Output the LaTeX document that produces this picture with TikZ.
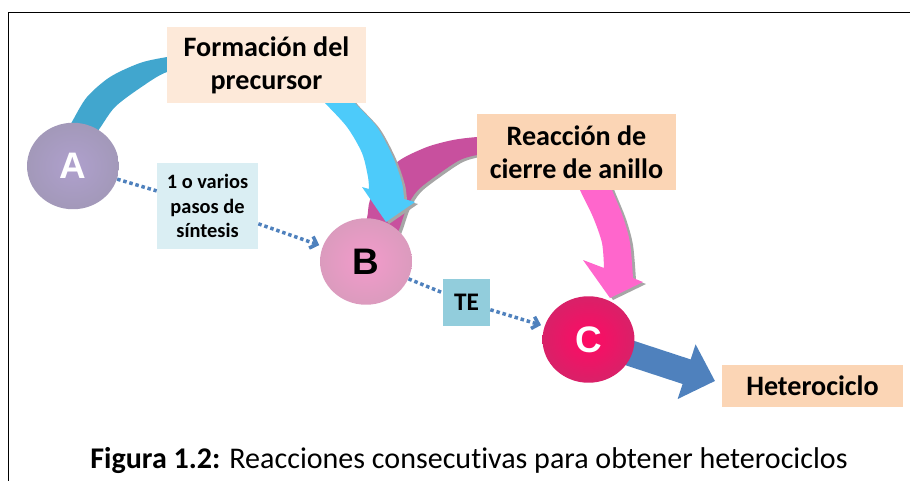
\documentclass[tikz,border=0pt]{standalone}
\usepackage{fontspec}
\setmainfont[Ligatures=NoCommon]{Carlito}
\newfontfamily\ballfont{Liberation Sans}
\usetikzlibrary{shapes.geometric, arrows.meta, positioning}

\definecolor{tealband}{HTML}{41A6CE}
\definecolor{cyanband}{HTML}{4DCBFA}
\definecolor{magband}{HTML}{C8509E}
\definecolor{pinkband}{HTML}{FF66CC}
\definecolor{arrowblue}{HTML}{4F81BD}
\definecolor{shadowgray}{HTML}{A6A6A6}
\definecolor{peachlight}{HTML}{FDE9D9}
\definecolor{peach}{HTML}{FBD5B5}
\definecolor{bluelight}{HTML}{DAEEF3}
\definecolor{bluemid}{HTML}{92CDDC}
\definecolor{ballAin}{HTML}{AFA0CD}
\definecolor{ballAout}{HTML}{9691A5}
\definecolor{ballBin}{HTML}{F39BCB}
\definecolor{ballBout}{HTML}{C39AB0}
\definecolor{ballCin}{HTML}{FF0A64}
\definecolor{ballCout}{HTML}{B2386C}

\pgfdeclareradialshading{shadeA}{\pgfpoint{0bp}{0bp}}{color(0bp)=(ballAin); color(50bp)=(ballAout)}
\pgfdeclareradialshading{shadeB}{\pgfpoint{0bp}{0bp}}{color(0bp)=(ballBin); color(50bp)=(ballBout)}
\pgfdeclareradialshading{shadeC}{\pgfpoint{0bp}{0bp}}{color(0bp)=(ballCin); color(50bp)=(ballCout)}

\pgfdeclarelayer{background}
\pgfsetlayers{background,main}

% outlines of the curved block arrows
\newcommand{\tealpath}{plot[smooth] coordinates {(65,135) (73,120) (87,97) (110,77) (140,63) (167,57) (200,52)} -- plot[smooth] coordinates {(200,68) (167,72) (140,88) (115,107) (100,128) (90,142)} -- cycle}
\newcommand{\cyanpath}{plot[smooth] coordinates {(345,88) (355,103) (377,127) (393,157) (402,183) (404,199)} -- (415,202) -- (386,222) -- (362,187) -- plot[smooth] coordinates {(369,189) (368,177) (362,153) (347,127) (325,103) (315,92)} -- cycle}
\newcommand{\magpath}{plot[smooth] coordinates {(360,235) (367,218) (370,200) (383,177) (400,160) (427,147) (453,140) (477,137) (500,136)} -- plot[smooth] coordinates {(500,152) (477,155) (460,160) (440,173) (418,190) (407,207) (400,227) (395,240)} -- cycle}
\newcommand{\pinkpath}{plot[smooth] coordinates {(605,172) (612,190) (623,217) (630,243) (633,278)} -- (643,282) -- (610,298) -- (583,260) -- plot[smooth] coordinates {(604,268) (602,243) (593,217) (580,190) (575,175)} -- cycle}

\begin{document}
\begin{tikzpicture}[
        x=0.02cm, y=-0.02cm,
        every node/.style={font=\bfseries},
        ball/.style={ellipse, inner sep=0pt, minimum width=1.84cm, minimum height=1.73cm,
            font=\ballfont\bfseries\fontsize{21}{21}\selectfont},
        labelbox/.style={rectangle, inner sep=0pt, align=center,
            font=\fontsize{16}{18.7}\selectfont\bfseries},
        stepbox/.style={rectangle, inner sep=0pt, align=center,
            font=\fontsize{11.6}{13.9}\selectfont\bfseries},
        dotarrow/.style={draw=arrowblue, line width=2pt, dash pattern=on 2pt off 1.6pt},
        blockarrow/.style={draw=arrowblue, line width=14.7pt, -{Triangle[length=17pt, width=31.7pt]}},
        shadow/.style={fill=shadowgray, shift={(3,2)}}
    ]

    \useasboundingbox (0,0) rectangle (910,481);

    % Frame
    \draw[line width=1.1pt] (910,12.5) -- (8.5,12.5) -- (8.5,481);

    % Curved arrows
    \fill[tealband] \tealpath;
    \fill[shadow] \magpath;
    \fill[magband] \magpath;
    \fill[shadow] \cyanpath;
    \fill[cyanband] \cyanpath;
    \fill[shadow] \pinkpath;
    \fill[pinkband] \pinkpath;

    % Species
    \node[ball, shading=shadeA, text=white] (A) at (73,166) {A};
    \node[ball, shading=shadeB, text=black] (B) at (366,261.5) {B};
    \node[ball, shading=shadeC, text=white] (C) at (588.5,339.5) {C};

    % Labels
    \node[labelbox, fill=peachlight, minimum width=3.98cm, minimum height=1.52cm] (precursor) at (266.5,65) {Formación del\\precursor};
    \node[labelbox, fill=peach, minimum width=3.98cm, minimum height=1.52cm] (cierre) at (576.5,152) {Reacción de\\cierre de anillo};
    \node[stepbox, fill=bluelight, minimum width=2.02cm, minimum height=1.72cm] (pasos) at (207.5,206) {1 o varios\\pasos de\\síntesis};
    \node[labelbox, font=\fontsize{14.4}{16}\selectfont\bfseries, fill=bluemid, minimum width=0.94cm, minimum height=0.94cm] (te) at (466.5,302.5) {TE};
    \node[labelbox, fill=peach, minimum width=3.62cm, minimum height=0.84cm] (hetero) at (812.5,386) {Heterociclo};
    \coordinate (hettip) at (715,381);

    % Steps
    \draw[dotarrow] (A) -- (pasos);
    \draw[dotarrow, -{Straight Barb[length=3.5pt, width=7pt]}, shorten >=2pt] (pasos) -- (B);
    \draw[dotarrow] (B) -- (te);
    \draw[dotarrow, -{Straight Barb[length=3.5pt, width=7pt]}, shorten >=2pt] (te) -- (C);
    \begin{pgfonlayer}{background}
        \draw[blockarrow] (C.center) -- (hettip);
    \end{pgfonlayer}

    % Caption
    \node[anchor=base, font=\fontsize{17.1}{20}\selectfont] (caption) at (469,468) {\textbf{Figura 1.2:} Reacciones consecutivas para obtener heterociclos};

\end{tikzpicture}
\end{document}
